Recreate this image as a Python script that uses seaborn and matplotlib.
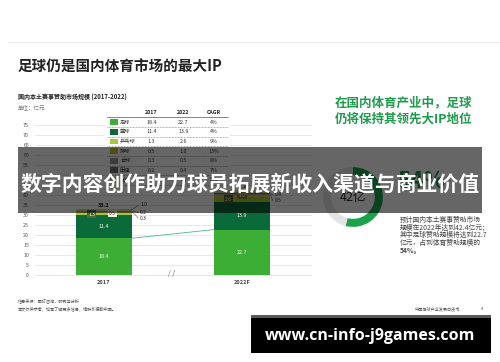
import matplotlib
matplotlib.use("Agg")
import matplotlib.pyplot as plt
import seaborn as sns
import pandas as pd
import numpy as np
from matplotlib.patches import Rectangle
from matplotlib.lines import Line2D

# ---------------- data ----------------
years = ["2017", "2022F"]
sports = ["足球", "篮球", "乒乓球", "排球", "台球", "田径", "其他"]
values_2017 = [18.4, 11.4, 1.3, 0.5, 0.3, 0.2, 1.0]
values_2022 = [22.7, 13.9, 2.6, 1.0, 0.5, 0.4, 1.3]
cagr = ["4%", "4%", "9%", "13%", "8%", "7%", "5%"]
totals = [33.2, 42.4]
y_ticks = list(range(0, 80, 5))
football_share = [54, 46]
colors = ["#3cae35", "#0b6a3a", "#a6c63b", "#c9c13a", "#9a9a9a", "#6e6e6e", "#c9d9a0"]

sns.set_theme(style="white")
plt.rcParams['font.family'] = ['Noto Sans CJK SC', 'DejaVu Sans']

W, H = 500, 362
fig = plt.figure(figsize=(5, 3.62), dpi=100)
fig.patch.set_facecolor("white")


def fx(x):
    return x / W


def fy(y):
    return 1 - y / H


# ---------------- bar chart ----------------
ax = fig.add_axes([fx(35), fy(276), (312 - 35) / W, 152 / H])
df = pd.DataFrame({
    "year": np.repeat(years, len(sports)),
    "sport": sports * 2,
    "value": values_2017 + values_2022,
})
df["top"] = df.groupby("year")["value"].cumsum()
df["center"] = df["top"] - df["value"] / 2
BAR_W = 56 / 138
for sport, color in reversed(list(zip(sports, colors))):
    sub = df[df.sport == sport]
    sns.barplot(data=sub, x="year", y="top", order=years, color=color,
                width=BAR_W, errorbar=None, ax=ax, linewidth=0,
                saturation=1, zorder=3)

ax.set_xlim(-0.5, 1.507)
ax.set_ylim(-0.5, 75.5)
ax.set_yticks(y_ticks)
ax.yaxis.grid(True, color="#e4e4e4", lw=0.6)
ax.set_axisbelow(True)
for s in ax.spines.values():
    s.set_visible(False)
ax.set_xticks([])
ax.set_xlabel("")
ax.set_ylabel("")
ax.tick_params(axis='y', length=0, pad=4.3, labelsize=3.8, labelcolor="#555555")
ax.patch.set_alpha(0)

for i, yr in enumerate(years):
    ax.text(i, -3.6, yr, ha="center", va="center", fontsize=4, fontweight="bold",
            color="#444444", clip_on=False)
    ax.text(i, totals[i] + 1.4, f"{totals[i]:.1f}", ha="center", va="center",
            fontsize=4, fontweight="bold", color="#222222", zorder=5)
    d = df[df.year == yr]
    for sp in ["足球", "篮球"]:
        r = d[d.sport == sp].iloc[0]
        ax.text(i, r.center, f"{r.value:.1f}", ha="center", va="center",
                fontsize=3.8, color="white", zorder=5)

# connecting line for football
ax.plot([0 + BAR_W / 2, 1 - BAR_W / 2], [values_2017[0], values_2022[0]],
        color="#4fb39c", lw=0.6, zorder=4)

# small inside labels with boxes
def boxed(x, y, txt, fc, tc):
    ax.text(x, y, txt, ha="center", va="center", fontsize=3.5, color=tc, zorder=6,
            bbox=dict(boxstyle="square,pad=0.25", fc=fc, ec="none"))


d17 = df[df.year == "2017"].set_index("sport")
d22 = df[df.year == "2022F"].set_index("sport")
boxed(-0.09, d17.loc["乒乓球", "center"], "1.3", "#4d6a33", "white")
boxed(0.06, d17.loc["排球", "center"] - 0.6, "0.5", "#f3f3d8", "#333333")
boxed(0.9, d22.loc["乒乓球", "center"], "2.6", "#55662a", "white")
boxed(1.0, d22.loc["排球", "center"], "1.0", "#8a8a2a", "white")

# callouts
callouts = [(0, "其他", 35.0, 0.262), (0, "田径", 31.2, 0.262), (0, "台球", 28.4, 0.262),
            (1, "田径", 40.1, 1.235), (1, "台球", 37.1, 1.235)]
for i, sp, ly, lx in callouts:
    d = d17 if i == 0 else d22
    cy = d.loc[sp, "center"]
    ax.plot([i + BAR_W / 2, lx - 0.012], [cy, ly], color="#666666", lw=0.4, zorder=4)
    ax.text(lx, ly, f"{d.loc[sp, 'value']:.1f}", ha="left", va="center",
            fontsize=3.6, color="#333333", zorder=5)

ax.text(0.486, 0.6, "/ /", ha="center", va="center", fontsize=5, color="#666666",
        fontstyle="italic")

# ---------------- donut ----------------
dax = fig.add_axes([fx(353 - 32), fy(197 + 32), 64 / W, 64 / H])
dax.pie(football_share, colors=["#1ba34b", "#e3e3e3"], startangle=90, counterclock=False,
        wedgeprops=dict(width=0.27, linewidth=0))
dax.set_xlim(-1.07, 1.07)
dax.set_ylim(-1.07, 1.07)
dax.set_aspect("equal")
dax.axis("off")
dax.text(0, 0, "42亿", ha="center", va="center", fontsize=9, color="#333333")

fig.text(fx(421), fy(181), "54%", ha="center", va="center", fontsize=16,
         fontweight="bold", color="#169c48")

# ---------------- titles & texts ----------------
fig.add_artist(Line2D([fx(8), fx(500)], [fy(42), fy(42)], color="#ececec", lw=0.8))
fig.text(fx(18), fy(67), "足球仍是国内体育市场的最大IP", ha="left", va="center",
         fontsize=10.5, fontweight="bold", color="#222222")
fig.text(fx(18), fy(97.5), "国内本土赛事赞助市场规模 (2017-2022)", ha="left", va="center",
         fontsize=4.3, fontweight="bold", color="#222222")
fig.text(fx(18), fy(108), "单位：亿元", ha="left", va="center", fontsize=4,
         color="#777777")

fig.text(fx(335), fy(103), "在国内体育产业中，足球", ha="left", va="center",
         fontsize=9, fontweight="bold", color="#1e9b4b")
fig.text(fx(335), fy(119), "仍将保持其领先大IP地位", ha="left", va="center",
         fontsize=9, fontweight="bold", color="#1e9b4b")

para = ["预计国内本土赛事赞助市场", "规模在2022年达到42.4亿元；",
        "其中足球赞助规模将达到22.7", "亿元，占到体育赞助规模的", "54%。"]
for k, line in enumerate(para):
    fig.text(fx(400), fy(220 + k * 7.5), line, ha="left", va="center", fontsize=4.9,
             color="#444444", fontweight="bold" if k == 4 else "normal")

# ---------------- table ----------------
fig.add_artist(Rectangle((fx(105), fy(186)), 125 / W, 78 / H, transform=fig.transFigure,
                         fc="white", ec="none", zorder=1))
fig.text(fx(151.5), fy(112.7), "2017", ha="center", va="center", fontsize=3.8,
         fontweight="bold", color="#222222", zorder=5)
fig.text(fx(183.5), fy(112.7), "2022", ha="center", va="center", fontsize=3.8,
         fontweight="bold", color="#222222", zorder=5)
fig.text(fx(213.5), fy(112.7), "CAGR", ha="center", va="center", fontsize=3.8,
         fontweight="bold", color="#222222", zorder=5)
fig.add_artist(Line2D([fx(107), fx(228)], [fy(116.8), fy(116.8)], color="#555555",
                      lw=0.5, zorder=5))
for k, sp in enumerate(sports):
    ry = 122.3 + k * 9.6
    fig.add_artist(Rectangle((fx(110), fy(ry + 3)), 7.5 / W, 6 / H,
                             transform=fig.transFigure, fc=colors[k], ec="none", zorder=5))
    fig.text(fx(120), fy(ry), sp, ha="left", va="center", fontsize=3.8,
             color="#333333", zorder=5)
    fig.text(fx(151.5), fy(ry), f"{values_2017[k]:.1f}", ha="center", va="center",
             fontsize=3.8, color="#333333", zorder=5)
    fig.text(fx(183.5), fy(ry), f"{values_2022[k]:.1f}", ha="center", va="center",
             fontsize=3.8, color="#333333", zorder=5)
    fig.text(fx(213.5), fy(ry), cagr[k], ha="center", va="center", fontsize=3.8,
             color="#333333", zorder=5)
    fig.add_artist(Line2D([fx(107), fx(228)], [fy(ry + 4.8), fy(ry + 4.8)],
                          color="#666666", lw=0.4, ls=(0, (1.5, 1.2)), zorder=5))

# ---------------- footer ----------------
fig.text(fx(18), fy(301), "信息来源：国际咨询，研究与分析", ha="left", va="center",
         fontsize=3, color="#555555")
fig.text(fx(18), fy(309), "本文仅供参考，如需了解更多信息，请联系德勤中国。", ha="left",
         va="center", fontsize=3, color="#555555")
fig.text(fx(437), fy(309), "中国足球产业发展白皮书", ha="center", va="center",
         fontsize=3, color="#555555")
fig.text(fx(482), fy(309), "8", ha="center", va="center", fontsize=3, color="#555555")

# ---------------- overlays ----------------
fig.add_artist(Rectangle((fx(18), fy(213)), 464 / W, 66 / H, transform=fig.transFigure,
                         fc="black", alpha=0.6, ec="none", zorder=10))
fig.text(fx(250), fy(184), "数字内容创作助力球员拓展新收入渠道与商业价值", ha="center",
         va="center", fontsize=15, fontweight="bold", color="white", zorder=11)

fig.add_artist(Rectangle((fx(251), fy(353)), 240 / W, 38 / H, transform=fig.transFigure,
                         fc="black", ec="none", zorder=10))
fig.add_artist(Rectangle((fx(251), fy(317.5)), 240 / W, 2.5 / H, transform=fig.transFigure,
                         fc="#5a5a5a", ec="none", zorder=11))
fig.text(fx(370), fy(336.5), "www.cn-info-j9games.com", ha="center", va="center",
         fontsize=11.5, fontweight="bold", color="white", zorder=12,
         family=["Open Sans", "DejaVu Sans"])

fig.savefig("out.png", dpi=100, facecolor="white")
